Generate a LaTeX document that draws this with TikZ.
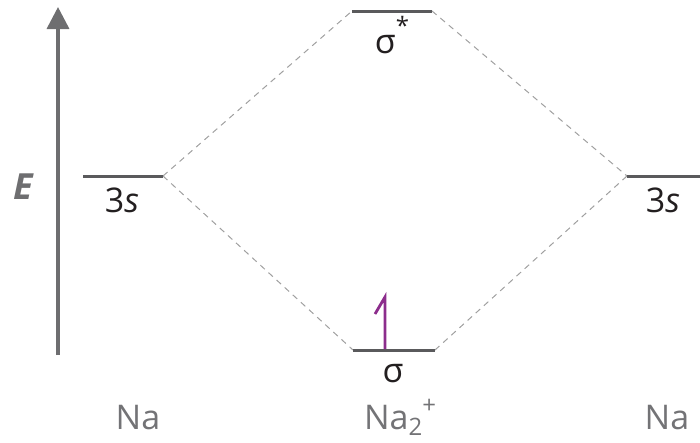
\documentclass[tikz,border=0pt]{standalone}
\usepackage{fontspec}
\setmainfont{Open Sans}
\usetikzlibrary{arrows.meta,positioning}
\definecolor{axisgray}{RGB}{110,110,112}
\definecolor{levelgray}{RGB}{90,90,92}
\definecolor{dashgray}{RGB}{160,160,160}
\definecolor{labelgray}{RGB}{115,115,118}
\definecolor{textdark}{RGB}{35,31,32}
\definecolor{spinpurple}{RGB}{140,45,140}
\tikzset{
    level/.style={draw=levelgray, line width=3pt},
    link/.style={draw=dashgray, dashed, dash pattern=on 6pt off 5pt, line width=1pt},
    energyaxis/.style={draw=axisgray, line width=3.5pt, -{Triangle[length=22pt,width=22pt]}},
    spin/.style={draw=spinpurple, line width=2.8pt, line join=miter},
    orbname/.style={text=textdark, anchor=base, font=\fontsize{34}{38}\selectfont, inner sep=0pt},
    atomname/.style={text=labelgray, anchor=base, font=\fontsize{34}{38}\selectfont, inner sep=0pt},
}
\begin{document}
\begin{tikzpicture}[x=1pt, y=-1pt]
    \useasboundingbox (0,0) rectangle (700,442);

    % Energy axis
    \coordinate (axisbot) at (58,355);
    \coordinate (axistop) at (58,7);
    \draw[energyaxis] (axisbot) -- (axistop);
    \node[text=axisgray, anchor=base, inner sep=0pt, font=\fontsize{36}{38}\selectfont\bfseries\itshape] (elabel) at (23,199) {E};

    % Level end points
    \coordinate (naL1) at (83,176);
    \coordinate (naL2) at (163,176);
    \coordinate (naR1) at (627,176);
    \coordinate (naR2) at (702,176);
    \coordinate (anti1) at (352,11);
    \coordinate (anti2) at (432,11);
    \coordinate (bond1) at (353,350);
    \coordinate (bond2) at (435,350);

    % Correlation lines
    \draw[link] (naL2) -- (anti1);
    \draw[link] (naL2) -- (bond1);
    \draw[link] (anti2) -- (naR1);
    \draw[link] (bond2) -- (naR1);

    % Levels
    \draw[level] (naL1) -- (naL2);
    \draw[level] (naR1) -- (naR2);
    \draw[level] (anti1) -- (anti2);
    \draw[level] (bond1) -- (bond2);

    % Electron in sigma
    \coordinate (spinbot) at (385,349);
    \coordinate (spintop) at (385,297);
    \draw[spin] (spinbot) -- (spintop) -- ++(-10,17);

    % Orbital labels
    \node[orbname] (s3left) at (122,212) {3\textit{s}};
    \node[orbname] (s3right) at (663,212) {3\textit{s}};
    \node[orbname] (sigstar) at (392,53) {σ\raisebox{0.55em}{\fontsize{24}{26}\selectfont *}};
    \node[orbname] (sig) at (393,382) {σ};

    % Species
    \node[atomname] (naleft) at (138,429) {Na};
    \node[atomname] (natwo) at (400,429) {Na\raisebox{-0.2em}{\fontsize{24}{26}\selectfont 2}\raisebox{0.45em}{\fontsize{24}{26}\selectfont +}};
    \node[atomname] (naright) at (667,429) {Na};
\end{tikzpicture}
\end{document}
